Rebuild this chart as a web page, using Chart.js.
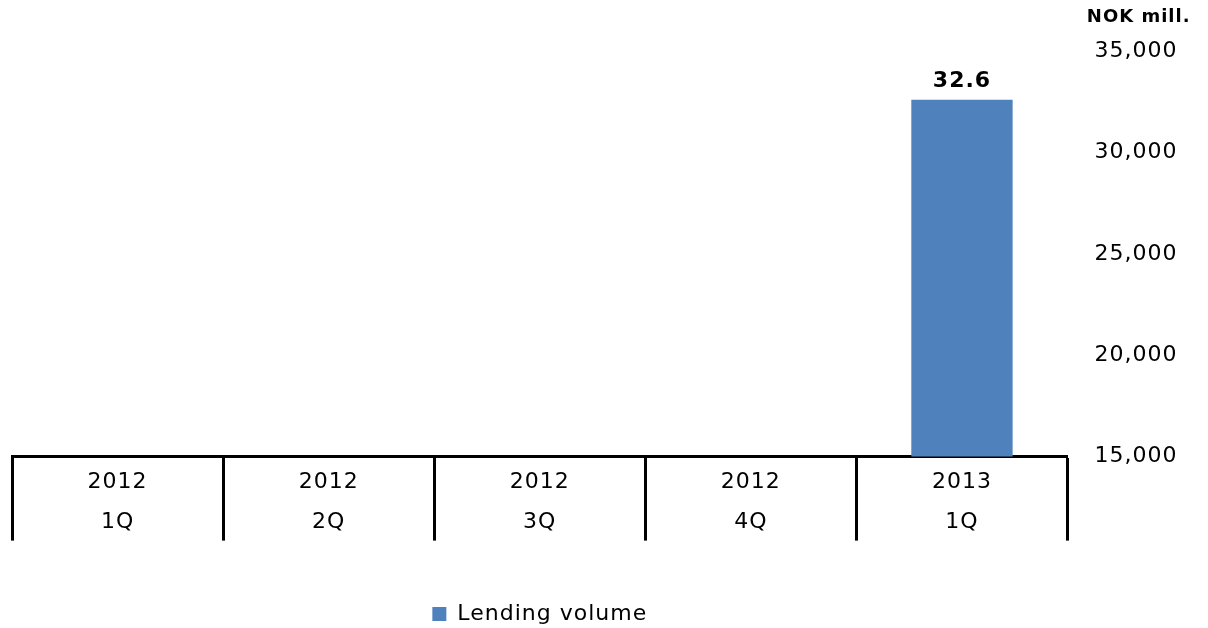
<!DOCTYPE html>
<html lang="en">
<head>
  <meta charset="UTF-8" />
  <title>Lending volume</title>
  <script src="https://cdn.jsdelivr.net/npm/chart.js"></script>
  <style>
    body {
      margin: 0;
      background: #fff;
      font-family: "DejaVu Sans", sans-serif;
    }
    .chart-box {
      position: relative;
      width: 1208px;
      height: 628px;
    }
  </style>
</head>
<body>
  <div class="chart-box">
    <canvas id="lendingChart"></canvas>
  </div>

  <script>
    // data
    const quarters = [['2012', '1Q'], ['2012', '2Q'], ['2012', '3Q'], ['2012', '4Q'], ['2013', '1Q']];
    const lendingVolume = [null, null, null, null, 32600];
    const yTicks = [15000, 20000, 25000, 30000, 35000];

    const barBlue = '#4F81BD';
    const fontFamily = '"DejaVu Sans", sans-serif';

    // wider letter spacing, like the original
    const spacingPlugin = {
      id: 'spacing',
      beforeUpdate(chart) { chart.ctx.letterSpacing = '1px'; },
      beforeDraw(chart) { chart.ctx.letterSpacing = '1px'; }
    };

    // value label above the bar, in billions
    const valueLabels = {
      id: 'valueLabels',
      afterDatasetsDraw(chart) {
        const ctx = chart.ctx;
        const meta = chart.getDatasetMeta(0);
        ctx.save();
        ctx.font = 'bold 22px ' + fontFamily;
        ctx.fillStyle = '#000';
        ctx.textAlign = 'center';
        ctx.textBaseline = 'alphabetic';
        meta.data.forEach((bar, i) => {
          const v = lendingVolume[i];
          if (v == null) return;
          ctx.fillText((v / 1000).toFixed(1), bar.x, bar.y - 13);
        });
        ctx.restore();
      }
    };

    const ctx = document.getElementById('lendingChart').getContext('2d');

    new Chart(ctx, {
      type: 'bar',
      data: {
        labels: quarters,
        datasets: [{
          label: 'Lending volume',
          data: lendingVolume,
          backgroundColor: barBlue,
          borderWidth: 0,
          barPercentage: 0.48,
          categoryPercentage: 1.0
        }]
      },
      options: {
        responsive: true,
        maintainAspectRatio: false,
        animation: false,
        layout: {
          padding: { top: 0, left: 12, right: 17.5, bottom: -7 }
        },
        scales: {
          x: {
            // the category "table": thick baseline and dividers hanging below it
            grid: {
              offset: true,
              drawOnChartArea: false,
              drawTicks: true,
              tickLength: 84,
              tickColor: '#000',
              tickWidth: 3,
              color: '#000'
            },
            border: { display: true, color: '#000', width: 3 },
            ticks: {
              color: '#000',
              padding: -78,
              maxRotation: 0,
              font: { family: fontFamily, size: 22, lineHeight: 1.818 }
            },
            // empty title only reserves the gap above the legend
            title: {
              display: true,
              text: '',
              font: { size: 12, lineHeight: 1.2 },
              padding: { top: 60, bottom: 64 }
            }
          },
          y: {
            position: 'right',
            min: 15000,
            max: 35000,
            afterBuildTicks(axis) {
              axis.ticks = yTicks.map(v => ({ value: v }));
            },
            grid: { display: false, tickLength: 14 },
            border: { display: false },
            ticks: {
              color: '#000',
              padding: 13,
              font: { family: fontFamily, size: 22 },
              callback: v => v.toLocaleString('en-US')
            }
          }
        },
        plugins: {
          title: {
            display: true,
            text: 'NOK mill.',
            align: 'end',
            color: '#000',
            font: { family: fontFamily, size: 18, weight: 'bold', lineHeight: 1.2 },
            padding: { top: 7, bottom: 22.5 }
          },
          legend: {
            position: 'bottom',
            fullSize: false,
            labels: {
              color: '#000',
              boxWidth: 14,
              boxHeight: 14,
              padding: 0,
              font: { family: fontFamily, size: 22 }
            }
          },
          tooltip: { enabled: false }
        }
      },
      plugins: [spacingPlugin, valueLabels]
    });
  </script>
</body>
</html>
